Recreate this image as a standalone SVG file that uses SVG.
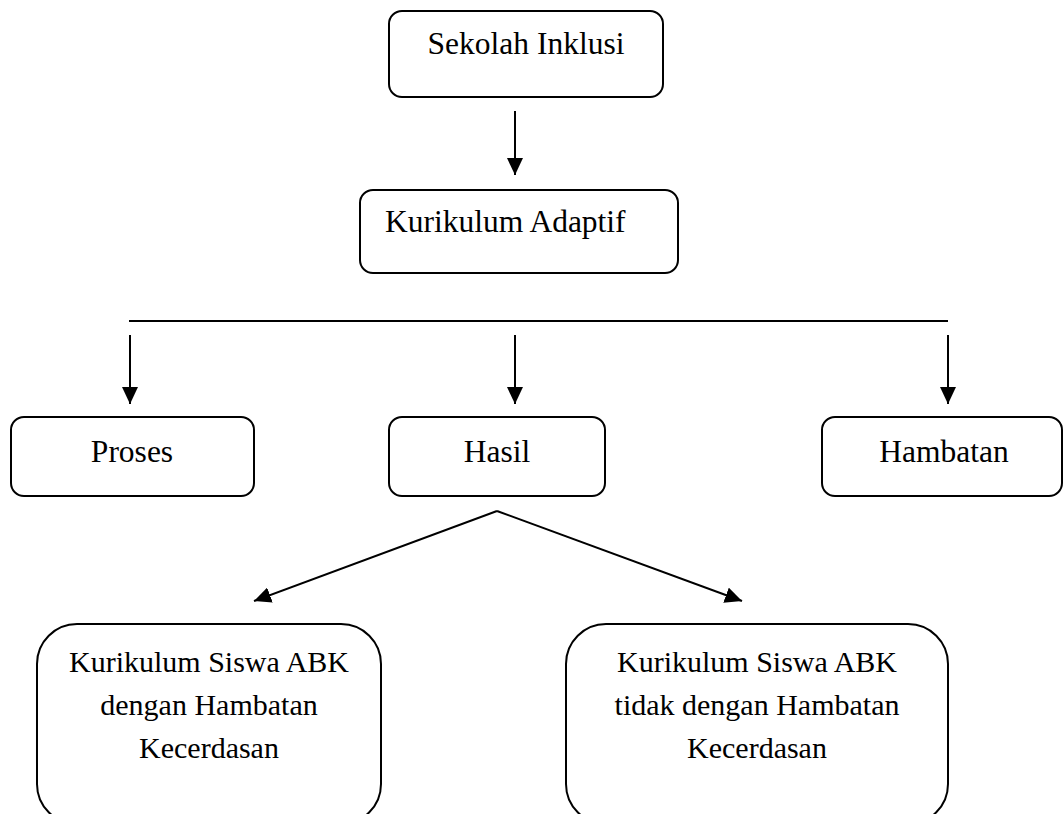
<svg xmlns="http://www.w3.org/2000/svg" width="1064" height="814" viewBox="0 0 1064 814">
<style>
.box{fill:#fff;stroke:#000;stroke-width:2}
.t{font-family:'Liberation Serif',Tinos,'Times New Roman',Times,serif;font-size:31.5px;fill:#000}
.tb{font-family:'Liberation Serif',Tinos,'Times New Roman',Times,serif;font-size:30px;fill:#000;text-anchor:middle}
.c{stroke:#000;stroke-width:2;fill:none}
</style>
<defs>
<marker id="ah" markerUnits="userSpaceOnUse" markerWidth="18" markerHeight="16" refX="17" refY="8" orient="auto" viewBox="0 0 18 16">
<path d="M0,0 L17,8 L0,16 z" fill="#000"/>
</marker>
</defs>
<rect width="1064" height="814" fill="#fff"/>
<g id="connectors">
<line class="c" x1="515" y1="111" x2="515" y2="175" marker-end="url(#ah)"/>
<line class="c" x1="129" y1="321" x2="948" y2="321"/>
<line class="c" x1="130" y1="335" x2="130" y2="404" marker-end="url(#ah)"/>
<line class="c" x1="515" y1="335" x2="515" y2="404" marker-end="url(#ah)"/>
<line class="c" x1="948" y1="335" x2="948" y2="404" marker-end="url(#ah)"/>
<line class="c" x1="497" y1="511" x2="254" y2="601" marker-end="url(#ah)"/>
<line class="c" x1="497" y1="511" x2="742" y2="601" marker-end="url(#ah)"/>
</g>
<g id="sekolah">
<rect class="box" x="389" y="11" width="274" height="86" rx="13"/>
<text class="t" font-family="Liberation Serif" x="526" y="54" text-anchor="middle">Sekolah Inklusi</text>
</g>
<g id="kurikulum">
<rect class="box" x="360" y="190" width="318" height="83" rx="13"/>
<text class="t" x="385" y="232">Kurikulum Adaptif</text>
</g>
<g id="proses">
<rect class="box" x="11" y="417" width="243" height="79" rx="13"/>
<text class="t" x="132" y="462" text-anchor="middle">Proses</text>
</g>
<g id="hasil">
<rect class="box" x="389" y="417" width="216" height="79" rx="13"/>
<text class="t" x="497" y="462" text-anchor="middle">Hasil</text>
</g>
<g id="hambatan">
<rect class="box" x="822" y="417" width="240" height="79" rx="13"/>
<text class="t" x="944" y="462" text-anchor="middle">Hambatan</text>
</g>
<g id="abk1">
<rect class="box" x="37" y="624" width="344" height="200" rx="40"/>
<text class="tb" x="209" y="672">Kurikulum Siswa ABK</text>
<text class="tb" x="209" y="715">dengan Hambatan</text>
<text class="tb" x="209" y="758">Kecerdasan</text>
</g>
<g id="abk2">
<rect class="box" x="566" y="624" width="382" height="200" rx="40"/>
<text class="tb" x="757" y="672">Kurikulum Siswa ABK</text>
<text class="tb" x="757" y="715">tidak dengan Hambatan</text>
<text class="tb" x="757" y="758">Kecerdasan</text>
</g>
</svg>
